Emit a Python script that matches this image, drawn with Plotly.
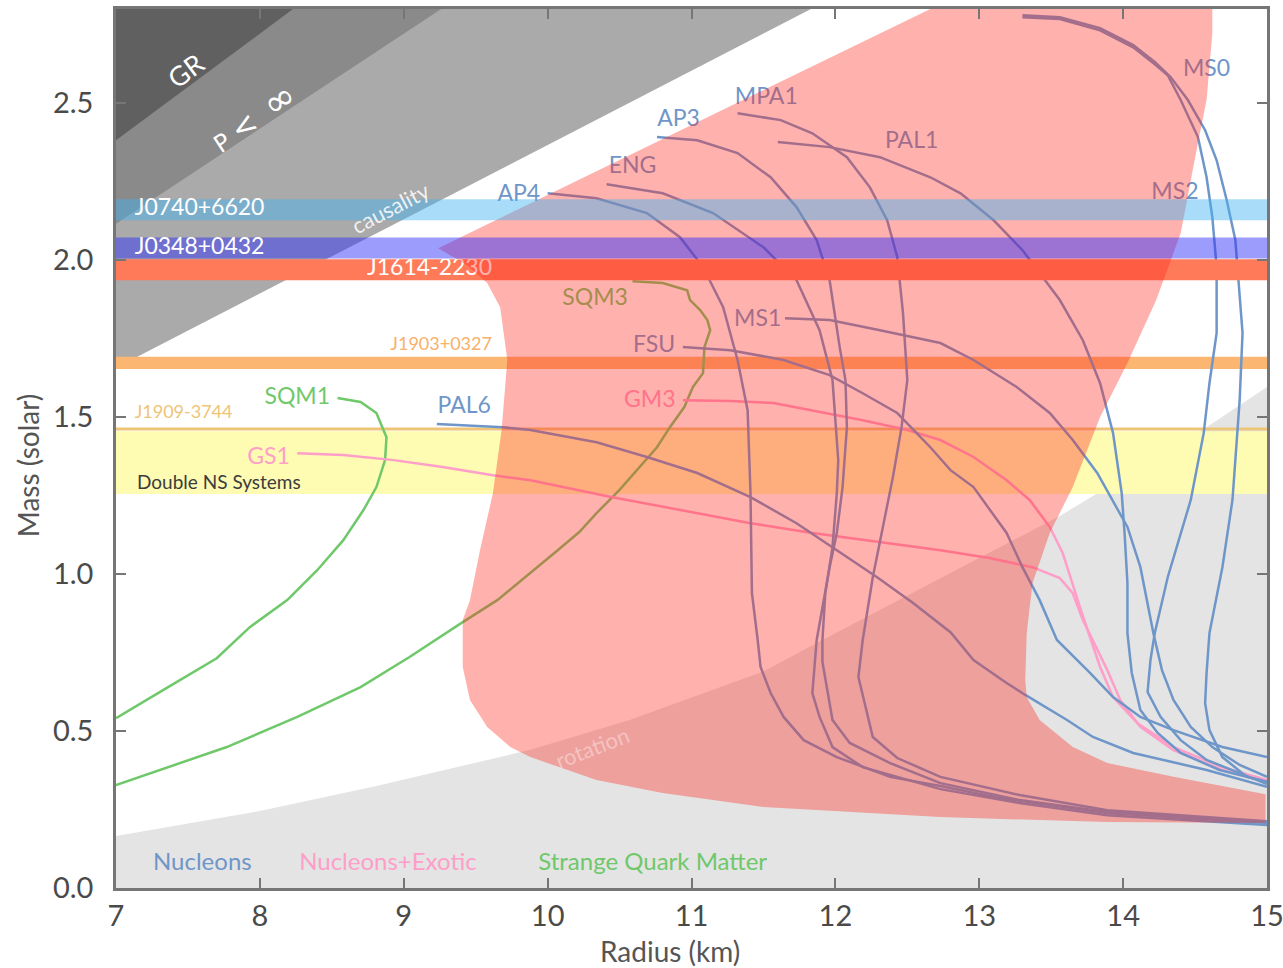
import plotly.graph_objects as go

# ---------------- axes extent ----------------
R_MIN, R_MAX = 7.0, 15.0
M_MIN, M_MAX = 0.0, 2.8

# ---------------- excluded regions (radius km / mass Msun) ----------------
GR_LIMIT_R = [7.0, 8.23]
GR_LIMIT_M = [2.382, 2.80]
FINITE_P_R = [7.0, 9.26]
FINITE_P_M = [2.116, 2.80]
CAUSALITY_R = [7.0, 11.83]
CAUSALITY_M = [1.657, 2.80]

# lower boundary of the rotation-excluded zone
ROTATION_R = [7.0, 8.0, 8.81, 9.88, 10.57, 11.50, 11.89, 12.80, 13.56, 14.58, 15.0]
ROTATION_M = [0.166, 0.245, 0.325, 0.440, 0.535, 0.690, 0.785, 1.003, 1.185, 1.468, 1.596]

# allowed region (closed outline)
ALLOWED_R = [12.66, 14.62, 14.62, 14.58, 14.51, 14.40, 14.23, 14.03, 13.84, 13.65, 13.49,
             13.37, 13.33, 13.32, 13.33, 13.42, 13.65, 13.89, 14.35, 14.99, 14.99,
             13.89, 12.73, 12.19, 11.50, 10.80, 10.34, 9.88, 9.74, 9.58, 9.46, 9.41,
             9.41, 9.46, 9.53, 9.62, 9.68, 9.72, 9.67, 9.58, 9.44, 9.24]
ALLOWED_M = [2.80, 2.80, 2.723, 2.510, 2.350, 2.086, 1.873, 1.672, 1.500, 1.277, 1.131,
             0.971, 0.812, 0.662, 0.608, 0.535, 0.449, 0.398, 0.354, 0.299, 0.207,
             0.210, 0.226, 0.239, 0.258, 0.303, 0.344, 0.417, 0.449, 0.513, 0.599, 0.704,
             0.854, 0.917, 1.076, 1.258, 1.459, 1.682, 1.850, 1.927, 1.984, 2.038]

# ---------------- measured masses (bands) ----------------
J0740_LO, J0740_HI = 2.127, 2.194
J0348_LO, J0348_HI = 2.005, 2.072
J1614_LO, J1614_HI = 1.936, 2.003
J1903_LO, J1903_HI = 1.653, 1.692
J1909_M = 1.462
DNS_LO, DNS_HI = 1.255, 1.455

# ---------------- mass-radius relations ----------------
AP4_R = [10.00, 10.34, 10.69, 10.92, 11.08, 11.22, 11.32, 11.39, 11.41, 11.42, 11.46,
         11.48, 11.55, 11.64, 11.78, 12.01, 12.38, 12.73, 13.14, 13.89, 15.0]
AP4_M = [2.213, 2.197, 2.150, 2.073, 1.978, 1.850, 1.682, 1.522, 1.258, 0.939, 0.790,
         0.704, 0.621, 0.545, 0.471, 0.417, 0.354, 0.325, 0.287, 0.239, 0.207]

AP3_R = [10.76, 11.04, 11.32, 11.55, 11.73, 11.87, 11.96, 12.03, 12.07, 12.08, 12.05,
         12.01, 11.96, 11.87, 11.84, 11.89, 11.98, 12.19, 12.43, 12.73, 13.28, 13.89, 15.0]
AP3_M = [2.392, 2.382, 2.341, 2.264, 2.169, 2.064, 1.936, 1.723, 1.618, 1.468, 1.277,
         1.131, 1.022, 0.790, 0.621, 0.545, 0.449, 0.385, 0.354, 0.315, 0.271, 0.232, 0.201]

ENG_R = [10.41, 10.80, 11.15, 11.50, 11.73, 11.89, 11.98, 12.02, 12.01, 11.98, 11.93,
         11.91, 11.91, 11.98, 12.10, 12.38, 12.73, 13.28, 13.89, 15.0]
ENG_M = [2.242, 2.213, 2.150, 2.041, 1.936, 1.777, 1.618, 1.363, 1.258, 1.086, 0.939,
         0.790, 0.720, 0.535, 0.462, 0.398, 0.334, 0.280, 0.242, 0.210]

MPA1_R = [11.32, 11.62, 11.84, 12.08, 12.24, 12.36, 12.43, 12.47, 12.50, 12.46, 12.40,
          12.33, 12.26, 12.19, 12.16, 12.26, 12.43, 12.73, 13.28, 13.89, 15.0]
MPA1_M = [2.468, 2.446, 2.404, 2.328, 2.232, 2.127, 2.010, 1.831, 1.618, 1.468, 1.309,
          1.150, 0.990, 0.790, 0.672, 0.481, 0.414, 0.354, 0.296, 0.248, 0.213]

PAL1_R = [11.60, 11.96, 12.31, 12.66, 12.87, 13.10, 13.30, 13.56, 13.72, 13.84, 13.93,
          13.99, 14.01, 14.03, 14.03, 14.06, 14.12, 14.24, 14.40, 14.67, 15.0]
PAL1_M = [2.376, 2.360, 2.328, 2.264, 2.213, 2.127, 2.032, 1.873, 1.745, 1.608, 1.449,
          1.258, 1.131, 0.971, 0.812, 0.685, 0.567, 0.494, 0.430, 0.376, 0.338]

MS0_R = [13.30, 13.56, 13.84, 14.07, 14.22, 14.33, 14.45, 14.57, 14.65, 14.72, 14.78,
         14.81, 14.83, 14.81, 14.76, 14.69, 14.60, 14.58, 14.57, 14.60, 14.69, 14.86, 15.0]
MS0_M = [2.780, 2.774, 2.739, 2.685, 2.631, 2.583, 2.510, 2.414, 2.318, 2.191, 2.064,
         1.873, 1.768, 1.554, 1.236, 1.022, 0.812, 0.685, 0.589, 0.503, 0.417, 0.354, 0.338]

MS2_R = [13.30, 13.56, 13.84, 14.07, 14.22, 14.31, 14.40, 14.52, 14.58, 14.62, 14.65,
         14.65, 14.65, 14.60, 14.56, 14.47, 14.31, 14.22, 14.19, 14.17, 14.26, 14.40,
         14.58, 14.81, 15.0]
MS2_M = [2.774, 2.768, 2.732, 2.678, 2.624, 2.589, 2.510, 2.392, 2.264, 2.137, 1.978,
         1.873, 1.768, 1.608, 1.449, 1.236, 0.990, 0.812, 0.726, 0.624, 0.545, 0.471,
         0.408, 0.366, 0.331]

MS1_R = [11.65, 11.96, 12.31, 12.73, 12.96, 13.26, 13.49, 13.65, 13.82, 14.03, 14.12,
         14.21, 14.27, 14.35, 14.47, 14.62, 14.81, 15.0]
MS1_M = [1.815, 1.809, 1.777, 1.736, 1.682, 1.596, 1.513, 1.427, 1.322, 1.150, 1.022,
         0.812, 0.694, 0.599, 0.513, 0.449, 0.392, 0.354]

FSU_R = [10.94, 11.27, 11.64, 11.96, 12.19, 12.43, 12.66, 12.80, 12.96, 13.19, 13.30,
         13.42, 13.54, 13.77, 13.93, 14.12, 14.35, 14.69, 15.0]
FSU_M = [1.723, 1.713, 1.682, 1.634, 1.576, 1.513, 1.404, 1.331, 1.277, 1.131, 1.022,
         0.917, 0.790, 0.685, 0.608, 0.545, 0.503, 0.449, 0.417]

PAL6_R = [9.23, 9.69, 9.88, 10.34, 10.69, 11.04, 11.41, 11.73, 12.01, 12.29, 12.54,
          12.80, 12.96, 13.19, 13.32, 13.61, 13.79, 14.07, 14.58, 15.0]
PAL6_M = [1.478, 1.468, 1.459, 1.420, 1.373, 1.322, 1.245, 1.162, 1.076, 0.990, 0.908,
          0.815, 0.726, 0.653, 0.615, 0.535, 0.481, 0.430, 0.376, 0.322]

GS1_R = [8.26, 8.58, 8.93, 9.27, 9.62, 9.88, 10.45, 11.04, 11.41, 11.84, 12.31, 12.73,
         13.07, 13.37, 13.56, 13.65, 13.72, 13.79, 13.89, 13.98, 14.12, 14.35, 14.69, 15.0]
GS1_M = [1.385, 1.379, 1.363, 1.341, 1.315, 1.299, 1.245, 1.194, 1.162, 1.131, 1.102,
         1.076, 1.051, 1.022, 0.987, 0.939, 0.854, 0.790, 0.694, 0.599, 0.513, 0.439,
         0.376, 0.338]

GM3_R = [10.94, 11.27, 11.57, 11.84, 12.19, 12.50, 12.73, 12.96, 13.19, 13.35, 13.49,
         13.58, 13.65, 13.70, 13.76, 13.84, 13.93, 14.10, 14.35, 14.69, 15.0]
GM3_M = [1.554, 1.551, 1.545, 1.522, 1.490, 1.459, 1.427, 1.373, 1.299, 1.236, 1.150,
         1.067, 0.971, 0.895, 0.812, 0.704, 0.608, 0.525, 0.449, 0.385, 0.344]

SQM1_R = [8.54, 8.70, 8.81, 8.88, 8.87, 8.81, 8.72, 8.58, 8.40, 8.19, 7.93, 7.70, 7.33, 7.0]
SQM1_M = [1.561, 1.548, 1.513, 1.436, 1.363, 1.277, 1.204, 1.108, 1.013, 0.917, 0.831,
          0.732, 0.631, 0.541]

SQM3_R = [10.59, 10.80, 10.97, 10.99, 11.06, 11.11, 11.13, 11.09, 11.08, 11.01, 10.95,
          10.85, 10.76, 10.64, 10.50, 10.34, 10.22, 10.07, 9.88, 9.65, 9.41, 9.04, 8.70,
          8.26, 7.77, 7.31, 7.0]
SQM3_M = [1.933, 1.927, 1.904, 1.873, 1.841, 1.809, 1.777, 1.723, 1.640, 1.596, 1.532,
          1.468, 1.404, 1.341, 1.268, 1.194, 1.134, 1.076, 1.003, 0.917, 0.847, 0.736,
          0.640, 0.545, 0.449, 0.376, 0.328]

# ---------------- styling ----------------
FONT = "Lato"
BLUE = "#6f96c9"
PINK = "#ff9ec8"
GREEN = "#6fc86a"
LINE_W = 2.5

fig = go.Figure()


def region(xs, ys, color):
    fig.add_trace(go.Scatter(x=xs, y=ys, mode="lines", fill="toself", fillcolor=color,
                             line=dict(width=0, color=color), hoverinfo="skip",
                             showlegend=False))


def band(lo, hi, color):
    region([R_MIN, R_MAX, R_MAX, R_MIN], [lo, lo, hi, hi], color)


def curve(xs, ys, color):
    fig.add_trace(go.Scatter(x=xs, y=ys, mode="lines",
                             line=dict(color=color, width=LINE_W),
                             hoverinfo="skip", showlegend=False))


def label(text, x, y, color, size, pos="middle center"):
    fig.add_trace(go.Scatter(x=[x], y=[y], mode="text", text=[text], textposition=pos,
                             textfont=dict(family=FONT, size=size, color=color),
                             hoverinfo="skip", showlegend=False))


# excluded zones: causality, finite pressure, general relativity
region(CAUSALITY_R + [R_MIN], CAUSALITY_M + [M_MAX], "#aaaaaa")
region(FINITE_P_R + [R_MIN], FINITE_P_M + [M_MAX], "#8a8a8a")
region(GR_LIMIT_R + [R_MIN], GR_LIMIT_M + [M_MAX], "#606060")
# rotation limit
region(ROTATION_R + [R_MAX, R_MIN], ROTATION_M + [M_MIN, M_MIN], "#e4e4e4")

# bands lying beneath the allowed-region tint
band(DNS_LO, DNS_HI, "#fefbb3")
band(J1903_LO, J1903_HI, "#fbb672")
fig.add_trace(go.Scatter(x=[R_MIN, R_MAX], y=[J1909_M, J1909_M], mode="lines",
                         line=dict(color="#eec477", width=3), hoverinfo="skip",
                         showlegend=False))

# equations of state
for xs, ys in [(SQM1_R, SQM1_M), (SQM3_R, SQM3_M)]:
    curve(xs, ys, GREEN)
for xs, ys in [(GS1_R, GS1_M), (GM3_R, GM3_M)]:
    curve(xs, ys, PINK)
for xs, ys in [(AP4_R, AP4_M), (AP3_R, AP3_M), (ENG_R, ENG_M), (MPA1_R, MPA1_M),
               (PAL1_R, PAL1_M), (MS0_R, MS0_M), (MS2_R, MS2_M), (MS1_R, MS1_M),
               (FSU_R, FSU_M), (PAL6_R, PAL6_M)]:
    curve(xs, ys, BLUE)

band(J1614_LO, J1614_HI, "#ff7a59")

# curve names
for text, x, y, color in [
    ("AP4", 9.80, 2.207, BLUE), ("AP3", 10.91, 2.446, BLUE), ("ENG", 10.59, 2.296, BLUE),
    ("MPA1", 11.52, 2.516, BLUE), ("PAL1", 12.53, 2.376, BLUE), ("MS0", 14.58, 2.605, BLUE),
    ("MS2", 14.36, 2.213, BLUE), ("MS1", 11.46, 1.809, BLUE), ("FSU", 10.74, 1.726, BLUE),
    ("PAL6", 9.42, 1.532, BLUE), ("GM3", 10.71, 1.551, PINK), ("GS1", 8.06, 1.368, PINK),
    ("SQM1", 8.26, 1.561, GREEN), ("SQM3", 10.33, 1.876, GREEN),
]:
    label(text, x, y, color, 23)

label("J1614-2230", 8.745, 1.970, "white", 23, "middle right")

# allowed region tint
region(ALLOWED_R, ALLOWED_M, "rgba(255,38,30,0.36)")

# translucent bands above everything
band(J0740_LO, J0740_HI, "rgba(65,179,240,0.46)")
band(J0348_LO, J0348_HI, "rgba(49,49,249,0.48)")

label("J0740+6620", 7.13, 2.161, "white", 23, "middle right")
label("J0348+0432", 7.13, 2.039, "white", 23, "middle right")
label("J1903+0327", 9.613, 1.729, "#f9b068", 18, "middle left")
label("J1909-3744", 7.13, 1.510, "#eec477", 18, "middle right")
label("Double NS Systems", 7.146, 1.286, "#3c3c3c", 19, "middle right")

label("Nucleons", 7.60, 0.076, BLUE, 24)
label("Nucleons+Exotic", 8.89, 0.076, PINK, 24)
label("Strange Quark Matter", 10.73, 0.076, GREEN, 24)

annotations = [
    dict(x=7.48, y=2.605, text="GR", textangle=-36.5,
         font=dict(family=FONT, size=27, color="white")),
    dict(x=7.95, y=2.455,
         text="P <span style='font-size:30px'>&lt;</span>  "
              "<span style='font-size:38px'>∞</span>",
         textangle=-33.5, font=dict(family="DejaVu Sans", size=24, color="white")),
    dict(x=8.91, y=2.169, text="causality", textangle=-27.4,
         font=dict(family=FONT, size=22, color="rgba(255,255,255,0.85)")),
    dict(x=10.31, y=0.446, text="rotation", textangle=-21,
         font=dict(family=FONT, size=22, color="rgba(255,255,255,0.38)")),
]
for a in annotations:
    a.update(xref="x", yref="y", showarrow=False)

annotations += [
    dict(xref="paper", yref="paper", x=0.481, y=0, yshift=-63, yanchor="middle",
         text="Radius (km)", showarrow=False, font=dict(family=FONT, size=28, color="#555")),
    dict(xref="paper", yref="paper", x=0, xshift=-88, y=0.481, textangle=-90,
         xanchor="center", yanchor="middle", text="Mass (solar)", showarrow=False,
         font=dict(family=FONT, size=28, color="#555")),
]

axis_common = dict(showgrid=False, zeroline=False, showline=True, linecolor="#767676",
                   linewidth=2.5, mirror="ticks", ticks="inside", ticklen=10, tickwidth=1.5,
                   tickcolor="#767676", ticklabeloverflow="allow", automargin=False,
                   tickfont=dict(family=FONT, size=29, color="#4a4a4a"))

fig.update_layout(
    width=1283, height=968,
    margin=dict(l=116, r=16, t=9, b=80, autoexpand=False),
    paper_bgcolor="white", plot_bgcolor="white",
    font=dict(family=FONT),
    xaxis=dict(range=[R_MIN, R_MAX], tickvals=list(range(7, 16)), ticklabelstandoff=0,
               **axis_common),
    yaxis=dict(range=[M_MIN, M_MAX], tickvals=[0, 0.5, 1.0, 1.5, 2.0, 2.5], tickformat=".1f",
               ticklabelstandoff=14, **axis_common),
    annotations=annotations,
    showlegend=False,
)

fig.write_html("out.html")
